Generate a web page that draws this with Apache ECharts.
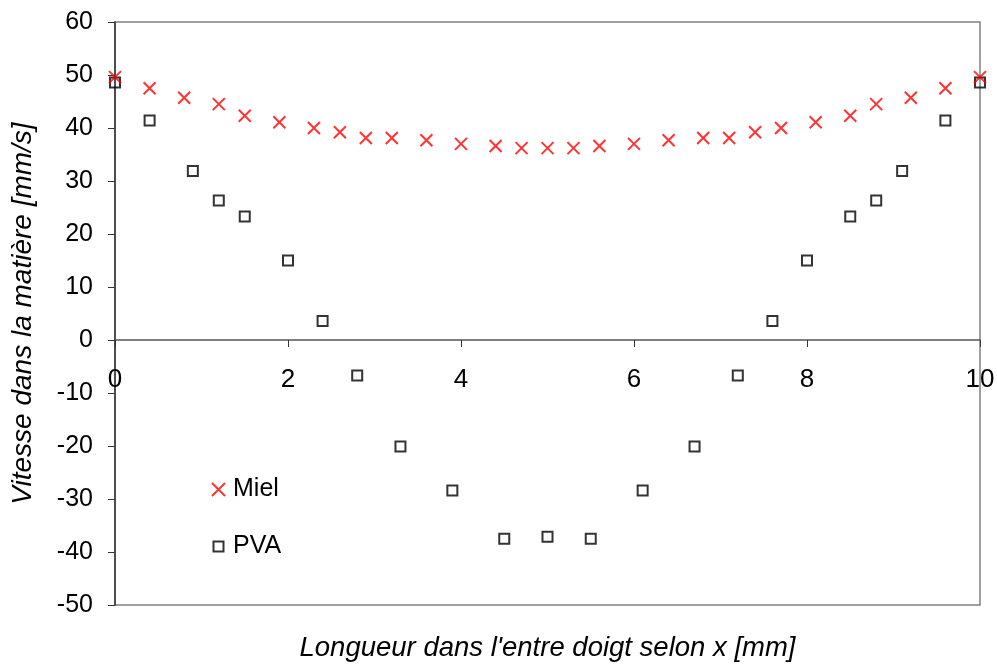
<!DOCTYPE html>
<html>
<head>
<meta charset="utf-8">
<script src="https://cdn.jsdelivr.net/npm/echarts@6/dist/echarts.min.js"></script>
<style>html,body{margin:0;padding:0;background:#fff}#c{width:997px;height:666px}</style>
</head>
<body>
<div id="c"></div>
<script>
const mielX = [0,0.4,0.8,1.2,1.5,1.9,2.3,2.6,2.9,3.2,3.6,4.0,4.4,4.7,5.0,5.3,5.6,6.0,6.4,6.8,7.1,7.4,7.7,8.1,8.5,8.8,9.2,9.6,10];
const mielY = [49.6,47.5,45.7,44.5,42.3,41.1,40.0,39.2,38.1,38.1,37.7,37.0,36.6,36.2,36.2,36.2,36.6,37.0,37.7,38.1,38.1,39.2,40.0,41.1,42.3,44.5,45.7,47.5,49.6];
const pvaX = [0,0.4,0.9,1.2,1.5,2.0,2.4,2.8,3.3,3.9,4.5,5.0,5.5,6.1,6.7,7.2,7.6,8.0,8.5,8.8,9.1,9.6,10];
const pvaY = [48.6,41.4,31.9,26.3,23.3,15.0,3.6,-6.7,-20.1,-28.4,-37.5,-37.1,-37.5,-28.4,-20.1,-6.7,3.6,15.0,23.3,26.3,31.9,41.4,48.6];
const seriesNames = ['Miel','PVA'];
const xTitle = "Longueur dans l'entre doigt selon x [mm]";
const yTitle = 'Vitesse dans la matière [mm/s]';

const crossPath = 'path://M0,0L10,10M10,0L0,10';
const smallSquare = 'path://M-1.5,-1.5M11.5,11.5M0,0L10,0L10,10L0,10Z';
const font = '"Liberation Sans", Arial, sans-serif';
const chart = echarts.init(document.getElementById('c'));
chart.setOption({
  animation: false,
  backgroundColor: '#fff',
  textStyle: {fontFamily: font, color: '#000'},
  grid: {left: 115, right: 17, top: 22, bottom: 61, show: true, borderColor: '#808080', borderWidth: 1.5,
         containLabel: false, outerBoundsMode: 'none'},
  legend: {
    orient: 'vertical', left: 206, top: 472, itemWidth: 13, itemHeight: 13, itemGap: 32,
    textStyle: {fontSize: 25, fontFamily: font, color: '#000', padding: [0,0,0,3]},
    data: [
      {name: seriesNames[0], icon: crossPath, itemStyle: {color: 'transparent', borderColor: '#ff0000', borderWidth: 2}},
      {name: seriesNames[1], icon: smallSquare, itemStyle: {color: '#fff', borderColor: '#000', borderWidth: 2}}
    ]
  },
  xAxis: {
    type: 'value', min: 0, max: 10, interval: 2,
    name: xTitle, nameLocation: 'middle', nameGap: 295,
    nameTextStyle: {fontSize: 27.5, fontStyle: 'italic', fontFamily: font, color: '#000'},
    offset: -265,
    axisLine: {onZero: false, lineStyle: {color: '#555', width: 1.5}},
    axisTick: {show: true, inside: false, length: 7, lineStyle: {color: '#333'}},
    axisLabel: {fontSize: 26, color: '#000', margin: 27, fontFamily: font},
    splitLine: {show: false}
  },
  yAxis: {
    type: 'value', min: -50, max: 60, interval: 10,
    name: yTitle, nameLocation: 'middle', nameGap: 78, nameRotate: 90,
    nameTextStyle: {fontSize: 28, fontStyle: 'italic', fontFamily: font, color: '#000'},
    axisLine: {show: true, onZero: false, lineStyle: {color: '#333', width: 1.5}},
    axisTick: {show: true, inside: false, length: 7, lineStyle: {color: '#333'}},
    axisLabel: {fontSize: 25, color: '#000', margin: 22, fontFamily: font},
    splitLine: {show: false}
  },
  series: [
    {
      name: seriesNames[0], type: 'scatter', symbol: crossPath, symbolSize: 12,
      itemStyle: {color: 'transparent', borderColor: '#ff0000', borderWidth: 2},
      data: mielX.map((x, i) => [x, mielY[i]]), z: 3
    },
    {
      name: seriesNames[1], type: 'scatter', symbol: 'rect', symbolSize: 10,
      itemStyle: {color: 'transparent', borderColor: '#000', borderWidth: 2},
      data: pvaX.map((x, i) => [x, pvaY[i]]), z: 2
    }
  ]
});
</script>
</body>
</html>
